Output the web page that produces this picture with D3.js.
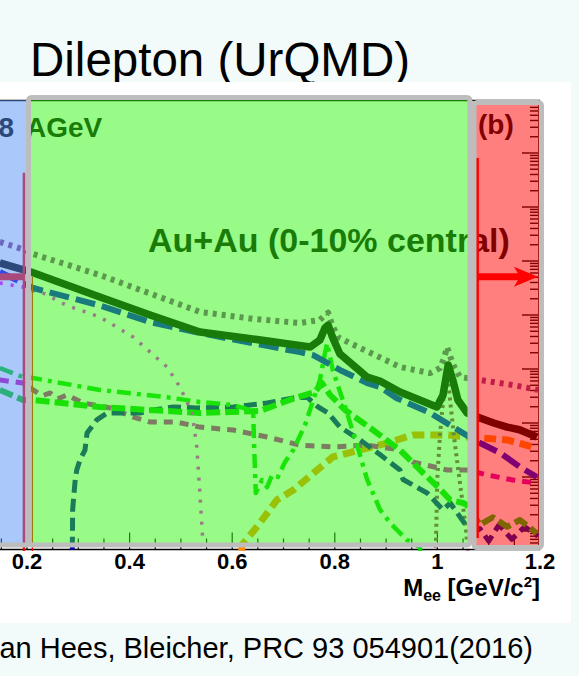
<!DOCTYPE html>
<html><head><meta charset="utf-8">
<script src="https://cdn.jsdelivr.net/npm/d3@7"></script>
<style>html,body{margin:0;padding:0;background:#f2fbfa;overflow:hidden}svg{display:block}</style>
</head><body><svg id="c" width="579" height="676"></svg>
<script>
// ---- data (mass in GeV/c^2, yield) ----
const xTickValues = [0.2, 0.4, 0.6, 0.8, 1.0, 1.2];
const xTickLabels = ["0.2", "0.4", "0.6", "0.8", "1", "1.2"];
const total = [[0.147,9.2e-5],[0.208,6.25e-5],[0.342,2.15e-5],[0.44,1.0e-5],[0.537,4.85e-6],[0.64,3.6e-6],[0.70,3.0e-6],[0.752,2.55e-6],[0.771,3.45e-6],[0.781,5.8e-6],[0.787,6.5e-6],[0.795,4.0e-6],[0.802,2.8e-6],[0.810,1.9e-6],[0.863,7.1e-7],[0.888,6.0e-7],[0.927,3.75e-7],[0.999,1.98e-7],[1.011,3.3e-7],[1.021,1.19e-6],[1.030,6.25e-7],[1.040,2.67e-7],[1.058,1.53e-7],[1.083,1.24e-7],[1.11,1.0e-7],[1.136,8.4e-8],[1.16,7.5e-8],[1.194,5.5e-8]];
const dottedSum = [[0.147,2.25e-4],[0.196,1.6e-4],[0.212,1.35e-4],[0.342,5.5e-5],[0.44,2.5e-5],[0.537,1.14e-5],[0.64,8.5e-6],[0.732,7.1e-6],[0.771,8.1e-6],[0.781,1.0e-5],[0.787,1.1e-5],[0.795,6.5e-6],[0.806,3.9e-6],[0.830,3.0e-6],[0.927,1.09e-6],[0.986,8.4e-7],[1.005,1.04e-6],[1.013,1.6e-6],[1.019,2.55e-6],[1.027,1.5e-6],[1.034,1.04e-6],[1.044,7.1e-7],[1.083,6.25e-7],[1.147,5.05e-7],[1.196,4.1e-7]];
const cocktail = [[0.147,6.25e-5],[0.192,3.9e-5],[0.212,3.16e-5],[0.342,1.5e-5],[0.44,7.4e-6],[0.537,4.65e-6],[0.64,3.0e-6],[0.732,2.05e-6],[0.758,1.8e-6],[0.810,9.6e-7],[0.863,5.5e-7],[0.888,4.65e-7],[0.920,2.9e-7],[0.986,1.53e-7],[1.050,6.5e-8],[1.083,4.25e-8],[1.122,2.8e-8],[1.161,1.53e-8],[1.194,1.0e-8]];
const etaDalitz = [[0.147,3.9e-5],[0.192,3.3e-5],[0.212,2.8e-5],[0.231,2.55e-5],[0.278,1.5e-5],[0.342,9.2e-6],[0.407,3.9e-6],[0.473,1.09e-6],[0.498,4.65e-7],[0.522,1.53e-7],[0.531,3.6e-8],[0.537,5.05e-9],[0.543,6.0e-10],[0.545,2e-10]];
const rhoThermal = [[0.288,2e-10],[0.289,2.5e-9],[0.294,9e-9],[0.297,1.35e-8],[0.303,2.05e-8],[0.313,3.16e-8],[0.317,6.5e-8],[0.336,1.14e-7],[0.356,1.53e-7],[0.381,1.53e-7],[0.420,1.53e-7],[0.446,1.74e-7],[0.485,1.98e-7],[0.531,1.9e-7],[0.602,1.98e-7],[0.668,2.35e-7],[0.719,2.9e-7],[0.746,3.0e-7],[0.767,2.0e-7],[0.787,1.53e-7],[0.810,8.4e-8],[0.849,4.85e-8],[0.888,2.6e-8],[0.927,1.35e-8],[0.933,9e-9],[0.980,5.05e-9],[1.011,2.45e-9],[1.025,3.3e-9],[1.058,1.19e-9],[1.083,1.1e-9],[1.100,6.5e-10],[1.120,1.3e-9],[1.145,7e-10],[1.170,1.2e-9],[1.196,8e-10]];
const omegaCurve = [[0.147,1.04e-6],[0.192,7.1e-7],[0.212,6.8e-7],[0.342,4.1e-7],[0.473,3.0e-7],[0.537,2.45e-7],[0.602,2.15e-7],[0.635,1.74e-7],[0.641,1.53e-7],[0.643,3.16e-8],[0.646,5.05e-9],[0.658,8.8e-9],[0.668,6.5e-9],[0.678,1.1e-8],[0.689,1.0e-8],[0.703,1.9e-8],[0.719,3.16e-8],[0.742,9.2e-8],[0.758,2.67e-7],[0.771,6.25e-7],[0.779,1.6e-6],[0.785,3.0e-6],[0.790,1.8e-6],[0.796,9.6e-7],[0.820,2.0e-7],[0.843,4.0e-8],[0.863,9.0e-9],[0.888,2.5e-9],[0.908,1.4e-9],[0.941,6.8e-10],[0.966,5.0e-10],[0.968,2e-10]];
const greenDashed = [[0.147,4.1e-7],[0.192,2.67e-7],[0.212,2.67e-7],[0.342,1.98e-7],[0.537,1.53e-7],[0.654,1.67e-7],[0.722,2.9e-7],[0.761,3.75e-7],[0.775,5.5e-7],[0.791,3.3e-7],[0.820,1.74e-7],[0.869,8.1e-8],[0.927,3.16e-8],[0.972,1.19e-8],[1.005,6.0e-9],[1.025,3.75e-9],[1.050,3.3e-9],[1.058,3.0e-9],[1.083,1.3e-9],[1.108,1.8e-9],[1.136,1.2e-9],[1.161,1.6e-9],[1.194,9e-10]];
const multiPi = [[0.147,6.25e-7],[0.192,5.5e-7],[0.212,4.1e-7],[0.23,3.2e-7],[0.245,3.6e-7],[0.26,2.8e-7],[0.278,3.3e-7],[0.309,2.35e-7],[0.362,1.9e-7],[0.407,1.29e-7],[0.440,1.04e-7],[0.492,1.04e-7],[0.537,8.4e-8],[0.602,7.4e-8],[0.668,5.5e-8],[0.732,3.9e-8],[0.796,3.6e-8],[0.863,3.9e-8],[0.927,3.16e-8],[0.952,1.9e-8],[1.019,1.35e-8],[1.058,1.35e-8],[1.097,1.09e-8],[1.147,8.8e-9],[1.194,7.7e-9]];
const orangeCurve = [[0.617,2e-10],[0.619,5.5e-10],[0.635,8.4e-10],[0.654,1.4e-9],[0.687,3.75e-9],[0.719,5.75e-9],[0.752,1.05e-8],[0.796,2.35e-8],[0.849,3.16e-8],[0.902,4.25e-8],[0.952,6.0e-8],[1.019,6.0e-8],[1.058,5.5e-8],[1.083,5.3e-8],[1.136,4.85e-8],[1.186,3.6e-8]];
const phiCurve = [[0.996,2e-10],[0.997,5.5e-10],[1.000,1e-8],[1.005,6e-8],[1.011,2.5e-7],[1.019,9.0e-7],[1.025,2.5e-7],[1.032,6e-8],[1.040,1.5e-8],[1.048,4e-9],[1.056,1e-9],[1.060,3e-10]];
// shaded mass windows [from, to]
const lowWindow = [0.10, 0.198];
const midWindow = [0.2029, 1.0635];
const highWindow = [1.0713, 1.2029];
const arrowLevel = 5.1e-5;

// ---- drawing ----
const svg = d3.select('#c');
const FONT = "'Liberation Sans', Arial, Helvetica, sans-serif";
const x = d3.scaleLinear().domain([0.2, 1.2]).range([27, 540]);
const y = d3.scaleLog().domain([1e-9, 1e-2]).range([531, 153]);

const frameTop = 100.5, frameBottom = 549.5, frameRight = x(1.2);

svg.append('text').attr('x', 30).attr('y', 76).attr('font-family', FONT)
  .attr('font-size', 47.5).attr('fill', '#000').text('Dilepton (UrQMD)');
svg.append('rect').attr('x', 0).attr('y', 82).attr('width', 571).attr('height', 541).attr('fill', '#fff');
svg.append('text').attr('x', 533).attr('y', 658).attr('text-anchor', 'end').attr('font-family', FONT)
  .attr('font-size', 29).attr('fill', '#000').text('an Hees, Bleicher, PRC 93 054901(2016)');

const plot = svg.append('g');
svg.append('defs').append('clipPath').attr('id', 'clip').append('rect')
  .attr('x', -10).attr('y', frameTop).attr('width', frameRight + 10).attr('height', 551 - frameTop);

// frame
plot.append('line').attr('x1', -5).attr('x2', frameRight).attr('y1', frameTop).attr('y2', frameTop).attr('stroke', '#000').attr('stroke-width', 1.5);
plot.append('line').attr('x1', -5).attr('x2', frameRight).attr('y1', frameBottom).attr('y2', frameBottom).attr('stroke', '#000').attr('stroke-width', 1.5);
plot.append('line').attr('x1', frameRight - 1).attr('x2', frameRight - 1).attr('y1', frameTop).attr('y2', frameBottom).attr('stroke', '#000').attr('stroke-width', 1.5);

// x ticks
const xt = d3.range(3, 25).map(i => +(i * 0.05).toFixed(2));
xt.forEach(v => {
  const major = Math.abs(v * 5 - Math.round(v * 5)) < 1e-6;
  plot.append('line').attr('x1', x(v)).attr('x2', x(v)).attr('y1', frameBottom)
    .attr('y2', frameBottom - (major ? 17 : 11)).attr('stroke', '#000').attr('stroke-width', 1.2);
});
// y ticks on right axis
const yMajor = d3.range(-10, 0).map(e => Math.pow(10, e));
yMajor.forEach(d => {
  for (let k = 1; k <= 9; k++) {
    const v = d * k; const py = y(v);
    if (py < frameTop + 1 || py > frameBottom - 1) continue;
    plot.append('line').attr('x1', frameRight - 2).attr('x2', frameRight - 2 - (k === 1 ? 16 : 8))
      .attr('y1', py).attr('y2', py).attr('stroke', '#000').attr('stroke-width', 1.4);
  }
});

// curves
const line = d3.line().x(d => x(d[0])).y(d => y(d[1]));
const curves = [
  {data: orangeCurve, color: 'rgb(255,140,0)', w: 7, dash: '12,6'},
  {data: phiCurve, color: 'rgb(150,40,100)', w: 4, dash: '3,4'},
  {data: multiPi, color: 'rgb(200,0,180)', w: 5, dash: '9,7'},
  {data: rhoThermal, color: 'rgb(0,0,160)', w: 5, dash: '13,6'},
  {data: greenDashed, color: 'rgb(0,205,0)', w: 6, dash: '14,5'},
  {data: omegaCurve, color: 'rgb(0,215,0)', w: 4.5, dash: '14,6,4,6'},
  {data: etaDalitz, color: 'rgb(255,0,255)', w: 3.5, dash: '3,8'},
  {data: cocktail, color: 'rgb(0,0,230)', w: 6, dash: '20,7'},
  {data: dottedSum, color: 'rgb(130,60,140)', w: 6, dash: '4,5'},
  {data: total, color: '#000', w: 7.5, dash: null}
];
const cg = plot.append('g').attr('clip-path', 'url(#clip)');
curves.forEach(c => {
  cg.append('path').attr('d', line(c.data)).attr('fill', 'none').attr('stroke', c.color)
    .attr('stroke-width', c.w).attr('stroke-dasharray', c.dash).attr('stroke-linejoin', 'round');
});

// texts inside plot
plot.append('text').attr('x', 14).attr('y', 137).attr('text-anchor', 'end').attr('font-family', FONT)
  .attr('font-weight', 'bold').attr('font-size', 28).text('8');
plot.append('text').attr('x', 26).attr('y', 137).attr('font-family', FONT)
  .attr('font-weight', 'bold').attr('font-size', 28).text('AGeV');
plot.append('text').attr('x', 148).attr('y', 252).attr('font-family', FONT)
  .attr('font-weight', 'bold').attr('font-size', 34).text('Au+Au (0-10% central)');
plot.append('text').attr('x', 478).attr('y', 134).attr('font-family', FONT)
  .attr('font-weight', 'bold').attr('font-size', 28).text('(b)');

// red annotations under the low-mass shading
plot.append('line').attr('x1', x(0.194)).attr('x2', x(0.194)).attr('y1', y(4.3e-3)).attr('y2', 551)
  .attr('stroke', 'red').attr('stroke-width', 2.5);
plot.append('line').attr('x1', -5).attr('x2', x(0.194)).attr('y1', y(arrowLevel)).attr('y2', y(arrowLevel))
  .attr('stroke', 'red').attr('stroke-width', 7);
plot.append('line').attr('x1', x(0.2105)).attr('x2', x(0.2105)).attr('y1', y(arrowLevel)).attr('y2', 551)
  .attr('stroke', 'red').attr('stroke-width', 1.3);

// shaded windows
const ovTop = frameTop - 0.5;
svg.append('rect').attr('x', x(lowWindow[0])).attr('y', ovTop).attr('width', x(lowWindow[1]) - x(lowWindow[0]))
  .attr('height', 545 - ovTop).attr('fill', 'rgb(85,145,245)').attr('fill-opacity', 0.5);
svg.append('rect').attr('x', x(midWindow[0])).attr('y', 97.5).attr('width', x(midWindow[1]) - x(midWindow[0]))
  .attr('height', 545 - 97.5).attr('fill', 'rgb(50,245,15)').attr('fill-opacity', 0.5);
svg.append('rect').attr('x', x(highWindow[0])).attr('y', 102.5).attr('width', x(highWindow[1]) - x(highWindow[0]))
  .attr('height', 547.5 - 102.5).attr('fill', 'rgb(255,0,0)').attr('fill-opacity', 0.5);

// red annotations in the high-mass window
const rx = x(1.078);
svg.append('line').attr('x1', rx).attr('x2', rx).attr('y1', y(8.1e-3)).attr('y2', 538)
  .attr('stroke', 'red').attr('stroke-width', 3);
const ay = y(arrowLevel), tip = x(1.196);
svg.append('line').attr('x1', rx).attr('x2', tip - 18).attr('y1', ay).attr('y2', ay)
  .attr('stroke', 'red').attr('stroke-width', 7);
svg.append('path').attr('d', `M${tip},${ay} L${tip - 24},${ay - 10} L${tip - 18},${ay} L${tip - 24},${ay + 10} Z`).attr('fill', 'red');

// grey borders
const grey = '#bdbdbd';
svg.append('line').attr('x1', -5).attr('x2', x(midWindow[0])).attr('y1', 545).attr('y2', 545).attr('stroke', grey).attr('stroke-width', 5);
svg.append('rect').attr('x', x(midWindow[0])).attr('y', 97.5).attr('width', x(midWindow[1]) - x(midWindow[0]))
  .attr('height', 545 - 97.5).attr('fill', 'none').attr('stroke', grey).attr('stroke-width', 5).attr('rx', 3);
svg.append('rect').attr('x', x(highWindow[0])).attr('y', 102.5).attr('width', x(highWindow[1]) - x(highWindow[0]))
  .attr('height', 547.5 - 102.5).attr('fill', 'none').attr('stroke', grey).attr('stroke-width', 5).attr('rx', 3);

// axis labels
xTickValues.forEach((v, i) => {
  svg.append('text').attr('x', x(v)).attr('y', 569).attr('text-anchor', 'middle').attr('font-family', FONT)
    .attr('font-weight', 'bold').attr('font-size', 22).attr('fill', '#000').text(xTickLabels[i]);
});
const at = svg.append('text').attr('x', 540).attr('y', 596).attr('text-anchor', 'end').attr('font-family', FONT)
  .attr('font-weight', 'bold').attr('font-size', 24).attr('fill', '#000');
at.append('tspan').text('M');
at.append('tspan').attr('font-size', 16).attr('dy', 5).text('ee');
at.append('tspan').attr('dy', -5).text(' [GeV/c');
at.append('tspan').attr('font-size', 15).attr('dy', -9).text('2');
at.append('tspan').attr('dy', 9).text(']');
</script></body></html>
